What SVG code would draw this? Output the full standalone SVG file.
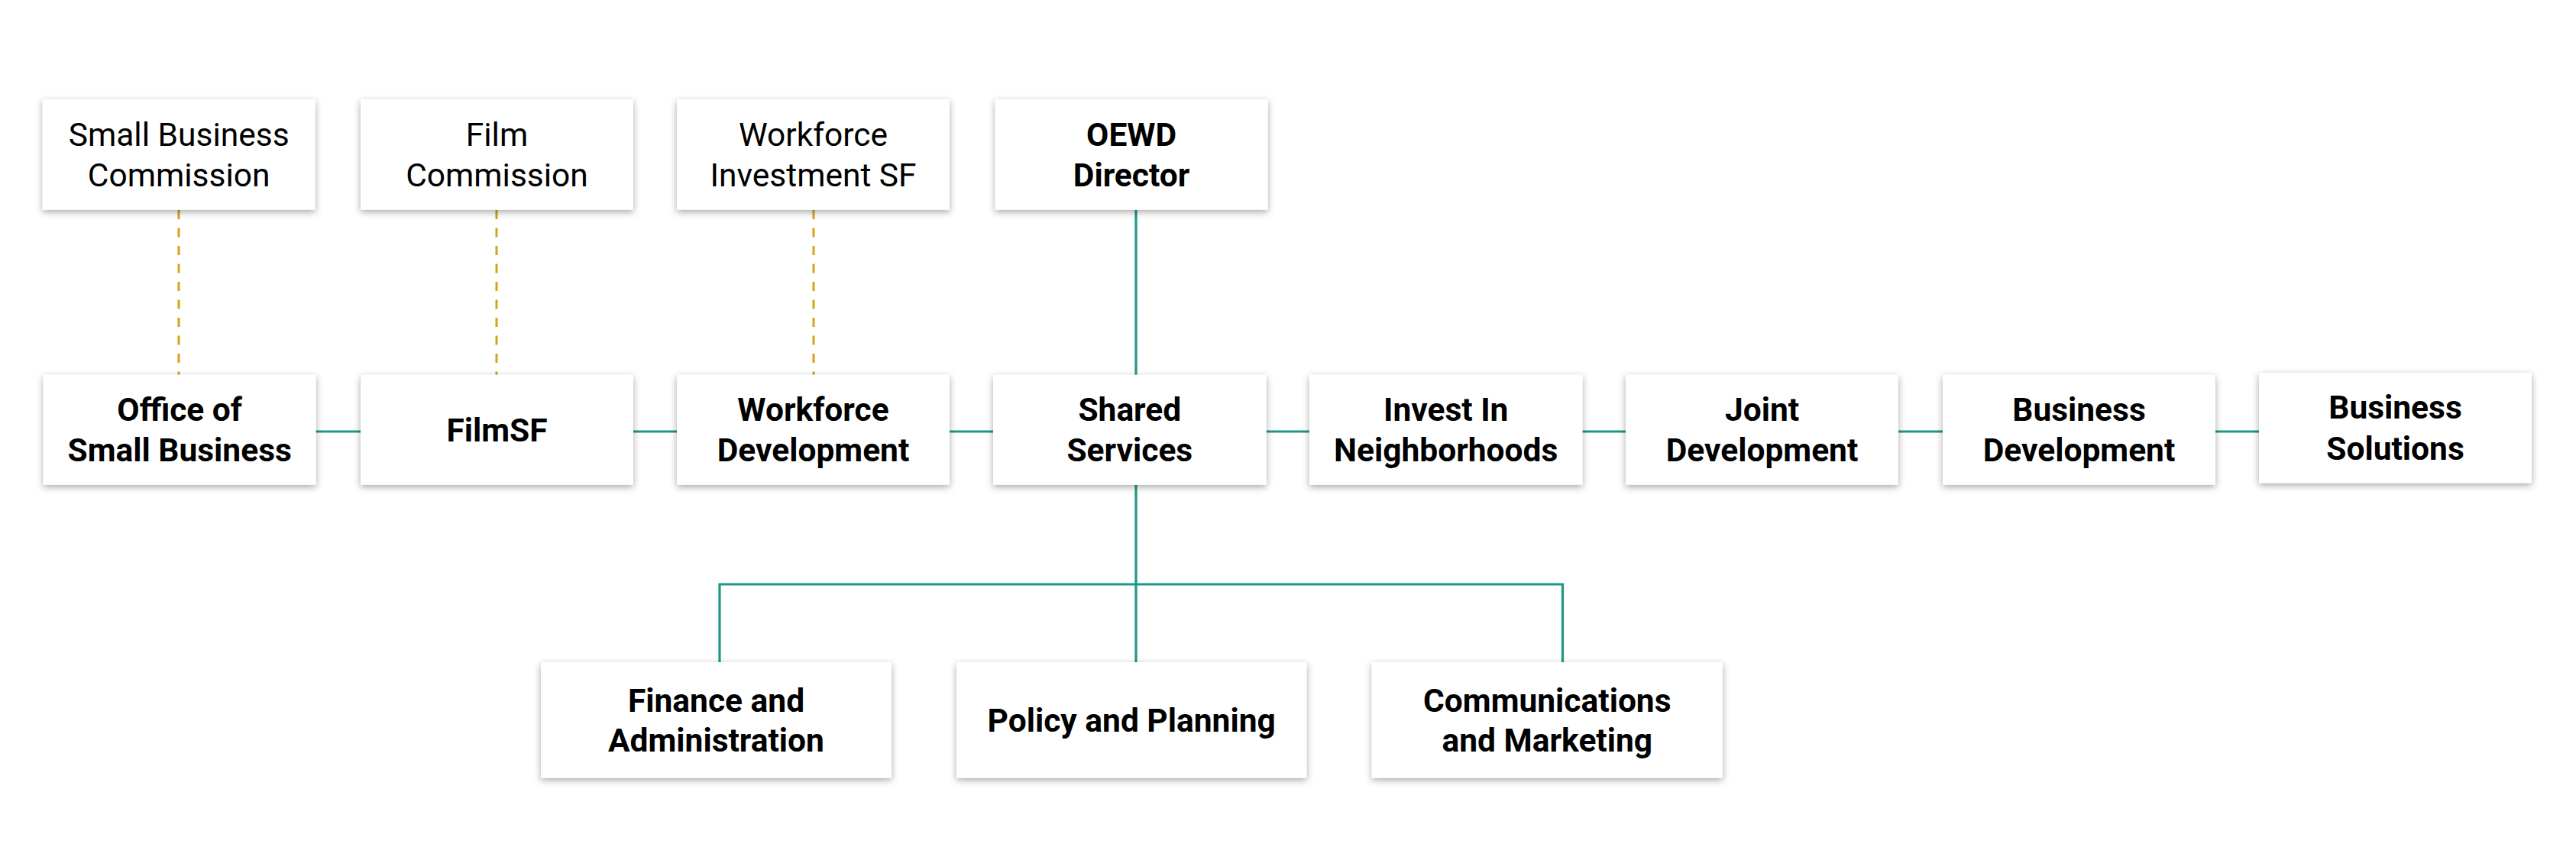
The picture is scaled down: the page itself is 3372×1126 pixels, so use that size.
<svg xmlns="http://www.w3.org/2000/svg" width="3372" height="1126" viewBox="0 0 3372 1126">
<defs>
<filter id="sh" x="-10%" y="-20%" width="120%" height="145%">
<feDropShadow dx="0" dy="3" stdDeviation="5" flood-color="#000" flood-opacity="0.34"/>
</filter>
<style>
.box{fill:#fff;filter:url(#sh);}
.t{font-family:Roboto,"Liberation Sans",sans-serif;font-size:42.5px;fill:#000;text-anchor:middle;}
.b{font-weight:bold;}
.solid{stroke:#1E9886;stroke-width:3.2;fill:none;}
.dash{stroke:#D4A419;stroke-width:3;fill:none;stroke-dasharray:12 11.5;}
</style>
</defs>
<rect width="3372" height="1126" fill="#fff"/>
<g id="connectors">
<line class="dash" x1="234" y1="275" x2="234" y2="491"/>
<line class="dash" x1="650" y1="275" x2="650" y2="491"/>
<line class="dash" x1="1065" y1="275" x2="1065" y2="491"/>
<line class="solid" x1="1487" y1="275" x2="1487" y2="491"/>
<line class="solid" x1="413" y1="565" x2="472" y2="565"/>
<line class="solid" x1="829" y1="565" x2="886" y2="565"/>
<line class="solid" x1="1243" y1="565" x2="1300" y2="565"/>
<line class="solid" x1="1657" y1="565" x2="1714" y2="565"/>
<line class="solid" x1="2071" y1="565" x2="2128" y2="565"/>
<line class="solid" x1="2485" y1="565" x2="2543" y2="565"/>
<line class="solid" x1="2900" y1="565" x2="2957" y2="565"/>
<line class="solid" x1="1487" y1="635" x2="1487" y2="867"/>
<polyline class="solid" points="942,867 942,765 2045.5,765 2045.5,867"/>
</g>
<g id="n-sbc"><rect class="box" x="55.7" y="130" width="357" height="144.7"/><text class="t" x="234.2" y="190.7">Small Business</text><text class="t" x="234.2" y="244.3">Commission</text></g>
<g id="n-fc"><rect class="box" x="472" y="130" width="357" height="144.7"/><text class="t" x="650.5" y="190.7">Film</text><text class="t" x="650.5" y="244.3">Commission</text></g>
<g id="n-wisf"><rect class="box" x="886" y="130" width="357" height="144.7"/><text class="t" x="1064.5" y="190.7">Workforce</text><text class="t" x="1064.5" y="244.3">Investment SF</text></g>
<g id="n-oewd"><rect class="box" x="1302.6" y="130" width="357" height="144.7"/><text class="t b" x="1481.1" y="190.7">OEWD</text><text class="t b" x="1481.1" y="244.3">Director</text></g>
<g id="n-osb"><rect class="box" x="56.7" y="490.7" width="357" height="144"/><text class="t b" x="235.2" y="551">Office of</text><text class="t b" x="235.2" y="604.3">Small Business</text></g>
<g id="n-filmsf"><rect class="box" x="472" y="490.7" width="357" height="144"/><text class="t b" x="650.5" y="578">FilmSF</text></g>
<g id="n-wd"><rect class="box" x="886" y="490.7" width="357" height="144"/><text class="t b" x="1064.5" y="551">Workforce</text><text class="t b" x="1064.5" y="604.3">Development</text></g>
<g id="n-ss"><rect class="box" x="1300" y="490.7" width="357.7" height="144"/><text class="t b" x="1478.8" y="551">Shared</text><text class="t b" x="1478.8" y="604.3">Services</text></g>
<g id="n-iin"><rect class="box" x="1714" y="490.7" width="357.5" height="144"/><text class="t b" x="1892.7" y="551">Invest In</text><text class="t b" x="1892.7" y="604.3">Neighborhoods</text></g>
<g id="n-jd"><rect class="box" x="2128" y="490.7" width="357" height="144"/><text class="t b" x="2306.5" y="551">Joint</text><text class="t b" x="2306.5" y="604.3">Development</text></g>
<g id="n-bd"><rect class="box" x="2543" y="490.7" width="357" height="144"/><text class="t b" x="2721.5" y="551">Business</text><text class="t b" x="2721.5" y="604.3">Development</text></g>
<g id="n-bs"><rect class="box" x="2957" y="488" width="357" height="144.5"/><text class="t b" x="3135.5" y="548.3">Business</text><text class="t b" x="3135.5" y="601.6">Solutions</text></g>
<g id="n-fa"><rect class="box" x="708" y="867" width="459" height="151.5"/><text class="t b" x="937.5" y="931.7">Finance and</text><text class="t b" x="937.5" y="984.4">Administration</text></g>
<g id="n-pp"><rect class="box" x="1252" y="867" width="458.5" height="151.5"/><text class="t b" x="1481.2" y="958">Policy and Planning</text></g>
<g id="n-cm"><rect class="box" x="1795.7" y="867" width="459.2" height="151.5"/><text class="t b" x="2025.3" y="931.7">Communications</text><text class="t b" x="2025.3" y="984.4">and Marketing</text></g>
</svg>
